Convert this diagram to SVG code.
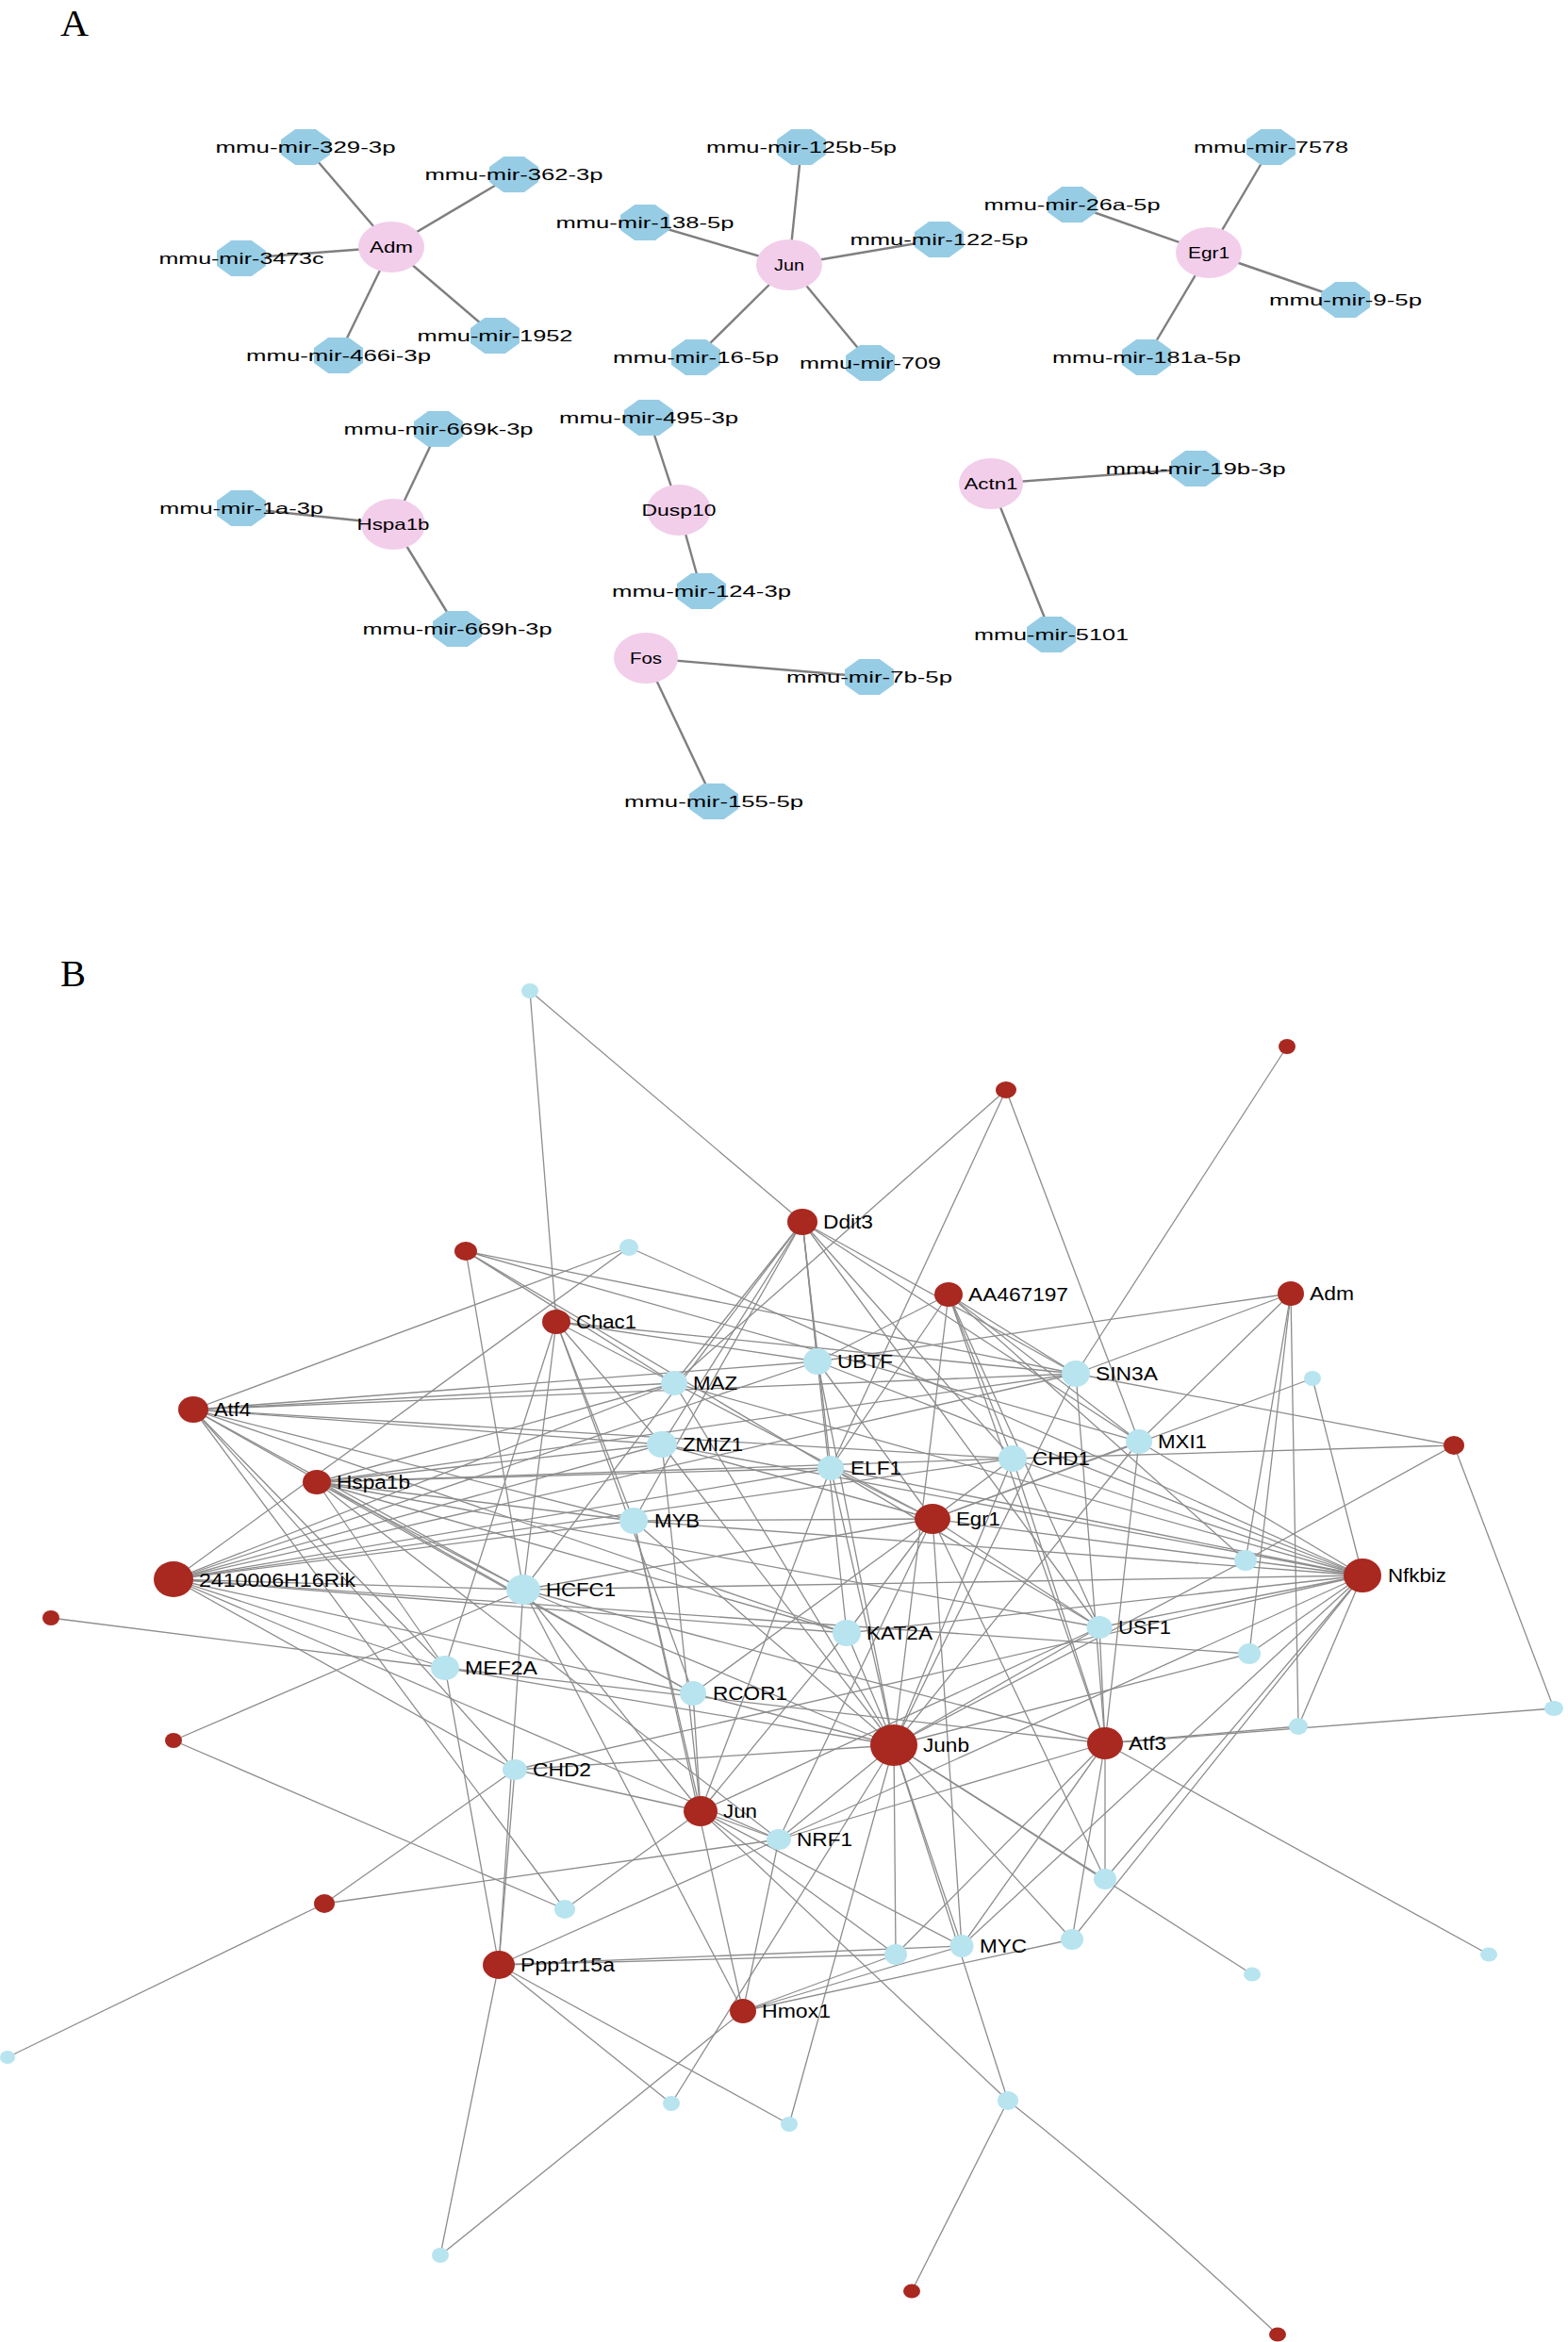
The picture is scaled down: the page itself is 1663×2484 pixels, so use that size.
<svg xmlns="http://www.w3.org/2000/svg" xmlns:xlink="http://www.w3.org/1999/xlink" width="1663" height="2484" viewBox="0 0 1663 2484">
<style>
.ea{stroke:#7f7f7f;stroke-width:2.4;fill:none}
.eb{stroke:#8d8d8d;stroke-width:1.3;fill:none}
.pk{fill:#f2ceeb}
.oc{fill:#97cce5}
.rd{fill:#a9281f}
.bl{fill:#b7e4ef}
.ml{font-family:"Liberation Sans",Arial,sans-serif;font-size:16.5px;fill:#000;text-anchor:middle}
.gl{font-family:"Liberation Sans",Arial,sans-serif;font-size:16.5px;fill:#000;text-anchor:middle}
.bt{font-family:"Liberation Sans",Arial,sans-serif;font-size:20px;fill:#000}
.pl{font-family:"Liberation Serif","Times New Roman",serif;font-size:40px;fill:#000}
</style>
<defs>
<polygon id="oct" points="-10.8,-19 10.8,-19 26,-7.9 26,7.9 10.8,19 -10.8,19 -26,7.9 -26,-7.9"/>
</defs>
<rect width="1663" height="2484" fill="#fff"/>
<text class="pl" x="64" y="38" textLength="30" lengthAdjust="spacingAndGlyphs">A</text>
<text class="pl" x="64" y="1046" textLength="27" lengthAdjust="spacingAndGlyphs">B</text>

<g id="connectors-a">
<line class="ea" x1="415" y1="262" x2="324" y2="156"/>
<line class="ea" x1="415" y1="262" x2="545" y2="185"/>
<line class="ea" x1="415" y1="262" x2="256" y2="274"/>
<line class="ea" x1="415" y1="262" x2="359" y2="377"/>
<line class="ea" x1="415" y1="262" x2="525" y2="356"/>
<line class="ea" x1="837" y1="281" x2="850" y2="156"/>
<line class="ea" x1="837" y1="281" x2="684" y2="236"/>
<line class="ea" x1="837" y1="281" x2="996" y2="254"/>
<line class="ea" x1="837" y1="281" x2="738" y2="379"/>
<line class="ea" x1="837" y1="281" x2="923" y2="385"/>
<line class="ea" x1="1282" y1="268" x2="1348" y2="156"/>
<line class="ea" x1="1282" y1="268" x2="1137" y2="217"/>
<line class="ea" x1="1282" y1="268" x2="1427" y2="318"/>
<line class="ea" x1="1282" y1="268" x2="1216" y2="379"/>
<line class="ea" x1="417" y1="556" x2="465" y2="455"/>
<line class="ea" x1="417" y1="556" x2="256" y2="539"/>
<line class="ea" x1="417" y1="556" x2="485" y2="667"/>
<line class="ea" x1="720" y1="541" x2="688" y2="443"/>
<line class="ea" x1="720" y1="541" x2="744" y2="627"/>
<line class="ea" x1="685" y1="698" x2="922" y2="718"/>
<line class="ea" x1="685" y1="698" x2="757" y2="850"/>
<line class="ea" x1="1051" y1="513" x2="1268" y2="497"/>
<line class="ea" x1="1051" y1="513" x2="1115" y2="673"/>
</g>

<g id="a-adm"><ellipse class="pk" cx="415" cy="262" rx="35" ry="27"/><text class="gl" x="415" y="268" textLength="46" lengthAdjust="spacingAndGlyphs">Adm</text></g>
<g id="a-jun"><ellipse class="pk" cx="837" cy="281" rx="35" ry="27"/><text class="gl" x="837" y="287" textLength="32" lengthAdjust="spacingAndGlyphs">Jun</text></g>
<g id="a-egr1"><ellipse class="pk" cx="1282" cy="268" rx="35" ry="27"/><text class="gl" x="1282" y="274" textLength="44" lengthAdjust="spacingAndGlyphs">Egr1</text></g>
<g id="a-hspa1b"><ellipse class="pk" cx="417" cy="556" rx="34" ry="27"/><text class="gl" x="417" y="562" textLength="77" lengthAdjust="spacingAndGlyphs">Hspa1b</text></g>
<g id="a-dusp10"><ellipse class="pk" cx="720" cy="541" rx="34" ry="27"/><text class="gl" x="720" y="547" textLength="79" lengthAdjust="spacingAndGlyphs">Dusp10</text></g>
<g id="a-fos"><ellipse class="pk" cx="685" cy="698" rx="34" ry="27"/><text class="gl" x="685" y="704" textLength="34" lengthAdjust="spacingAndGlyphs">Fos</text></g>
<g id="a-actn1"><ellipse class="pk" cx="1051" cy="513" rx="34" ry="27"/><text class="gl" x="1051" y="519" textLength="57" lengthAdjust="spacingAndGlyphs">Actn1</text></g>

<g id="a-mir-329-3p"><use href="#oct" class="oc" x="324" y="156"/><text class="ml" x="324" y="162" textLength="191" lengthAdjust="spacingAndGlyphs">mmu-mir-329-3p</text></g>
<g id="a-mir-362-3p"><use href="#oct" class="oc" x="545" y="185"/><text class="ml" x="545" y="191" textLength="189" lengthAdjust="spacingAndGlyphs">mmu-mir-362-3p</text></g>
<g id="a-mir-3473c"><use href="#oct" class="oc" x="256" y="274"/><text class="ml" x="256" y="280" textLength="175" lengthAdjust="spacingAndGlyphs">mmu-mir-3473c</text></g>
<g id="a-mir-466i-3p"><use href="#oct" class="oc" x="359" y="377"/><text class="ml" x="359" y="383" textLength="196" lengthAdjust="spacingAndGlyphs">mmu-mir-466i-3p</text></g>
<g id="a-mir-1952"><use href="#oct" class="oc" x="525" y="356"/><text class="ml" x="525" y="362" textLength="165" lengthAdjust="spacingAndGlyphs">mmu-mir-1952</text></g>
<g id="a-mir-125b-5p"><use href="#oct" class="oc" x="850" y="156"/><text class="ml" x="850" y="162" textLength="202" lengthAdjust="spacingAndGlyphs">mmu-mir-125b-5p</text></g>
<g id="a-mir-138-5p"><use href="#oct" class="oc" x="684" y="236"/><text class="ml" x="684" y="242" textLength="189" lengthAdjust="spacingAndGlyphs">mmu-mir-138-5p</text></g>
<g id="a-mir-122-5p"><use href="#oct" class="oc" x="996" y="254"/><text class="ml" x="996" y="260" textLength="189" lengthAdjust="spacingAndGlyphs">mmu-mir-122-5p</text></g>
<g id="a-mir-16-5p"><use href="#oct" class="oc" x="738" y="379"/><text class="ml" x="738" y="385" textLength="176" lengthAdjust="spacingAndGlyphs">mmu-mir-16-5p</text></g>
<g id="a-mir-709"><use href="#oct" class="oc" x="923" y="385"/><text class="ml" x="923" y="391" textLength="150" lengthAdjust="spacingAndGlyphs">mmu-mir-709</text></g>
<g id="a-mir-7578"><use href="#oct" class="oc" x="1348" y="156"/><text class="ml" x="1348" y="162" textLength="164" lengthAdjust="spacingAndGlyphs">mmu-mir-7578</text></g>
<g id="a-mir-26a-5p"><use href="#oct" class="oc" x="1137" y="217"/><text class="ml" x="1137" y="223" textLength="187" lengthAdjust="spacingAndGlyphs">mmu-mir-26a-5p</text></g>
<g id="a-mir-9-5p"><use href="#oct" class="oc" x="1427" y="318"/><text class="ml" x="1427" y="324" textLength="162" lengthAdjust="spacingAndGlyphs">mmu-mir-9-5p</text></g>
<g id="a-mir-181a-5p"><use href="#oct" class="oc" x="1216" y="379"/><text class="ml" x="1216" y="385" textLength="200" lengthAdjust="spacingAndGlyphs">mmu-mir-181a-5p</text></g>
<g id="a-mir-669k-3p"><use href="#oct" class="oc" x="465" y="455"/><text class="ml" x="465" y="461" textLength="201" lengthAdjust="spacingAndGlyphs">mmu-mir-669k-3p</text></g>
<g id="a-mir-1a-3p"><use href="#oct" class="oc" x="256" y="539"/><text class="ml" x="256" y="545" textLength="174" lengthAdjust="spacingAndGlyphs">mmu-mir-1a-3p</text></g>
<g id="a-mir-669h-3p"><use href="#oct" class="oc" x="485" y="667"/><text class="ml" x="485" y="673" textLength="201" lengthAdjust="spacingAndGlyphs">mmu-mir-669h-3p</text></g>
<g id="a-mir-495-3p"><use href="#oct" class="oc" x="688" y="443"/><text class="ml" x="688" y="449" textLength="190" lengthAdjust="spacingAndGlyphs">mmu-mir-495-3p</text></g>
<g id="a-mir-124-3p"><use href="#oct" class="oc" x="744" y="627"/><text class="ml" x="744" y="633" textLength="190" lengthAdjust="spacingAndGlyphs">mmu-mir-124-3p</text></g>
<g id="a-mir-155-5p"><use href="#oct" class="oc" x="757" y="850"/><text class="ml" x="757" y="856" textLength="190" lengthAdjust="spacingAndGlyphs">mmu-mir-155-5p</text></g>
<g id="a-mir-19b-3p"><use href="#oct" class="oc" x="1268" y="497"/><text class="ml" x="1268" y="503" textLength="191" lengthAdjust="spacingAndGlyphs">mmu-mir-19b-3p</text></g>
<g id="a-mir-5101"><use href="#oct" class="oc" x="1115" y="673"/><text class="ml" x="1115" y="679" textLength="164" lengthAdjust="spacingAndGlyphs">mmu-mir-5101</text></g>
<g id="a-mir-7b-5p"><use href="#oct" class="oc" x="922" y="718"/><text class="ml" x="922" y="724" textLength="176" lengthAdjust="spacingAndGlyphs">mmu-mir-7b-5p</text></g>

<g id="connectors-b" class="eb">
<line x1="562" y1="1051" x2="590" y2="1402"/>
<line x1="562" y1="1051" x2="851" y2="1296"/>
<line x1="1067" y1="1156" x2="715" y2="1467"/>
<line x1="1067" y1="1156" x2="881" y2="1557"/>
<line x1="1067" y1="1156" x2="1208" y2="1529"/>
<line x1="1365" y1="1110" x2="1141" y2="1457"/>
<line x1="494" y1="1327" x2="555" y2="1686"/>
<line x1="494" y1="1327" x2="715" y2="1467"/>
<line x1="494" y1="1327" x2="1166" y2="1726"/>
<line x1="494" y1="1327" x2="1141" y2="1457"/>
<line x1="494" y1="1327" x2="1208" y2="1529"/>
<line x1="667" y1="1323" x2="205" y2="1495"/>
<line x1="667" y1="1323" x2="184" y2="1675"/>
<line x1="667" y1="1323" x2="1445" y2="1671"/>
<line x1="1542" y1="1533" x2="1141" y2="1457"/>
<line x1="1542" y1="1533" x2="1074" y2="1547"/>
<line x1="1542" y1="1533" x2="1321" y2="1655"/>
<line x1="1542" y1="1533" x2="1648" y2="1812"/>
<line x1="54" y1="1716" x2="472" y2="1769"/>
<line x1="184" y1="1846" x2="555" y2="1686"/>
<line x1="184" y1="1846" x2="599" y2="2025"/>
<line x1="344" y1="2019" x2="546" y2="1877"/>
<line x1="344" y1="2019" x2="826" y2="1951"/>
<line x1="344" y1="2019" x2="8" y2="2182"/>
<line x1="1392" y1="1462" x2="989" y2="1611"/>
<line x1="1392" y1="1462" x2="1445" y2="1671"/>
<line x1="1321" y1="1655" x2="1445" y2="1671"/>
<line x1="1321" y1="1655" x2="1369" y2="1372"/>
<line x1="1321" y1="1655" x2="989" y2="1611"/>
<line x1="1321" y1="1655" x2="948" y2="1851"/>
<line x1="1321" y1="1655" x2="1006" y2="1373"/>
<line x1="1325" y1="1754" x2="1369" y2="1372"/>
<line x1="1325" y1="1754" x2="184" y2="1675"/>
<line x1="1325" y1="1754" x2="948" y2="1851"/>
<line x1="1325" y1="1754" x2="1445" y2="1671"/>
<line x1="1377" y1="1831" x2="1369" y2="1372"/>
<line x1="1377" y1="1831" x2="1172" y2="1849"/>
<line x1="1377" y1="1831" x2="1445" y2="1671"/>
<line x1="1648" y1="1812" x2="1172" y2="1849"/>
<line x1="1172" y1="1993" x2="948" y2="1851"/>
<line x1="1172" y1="1993" x2="1172" y2="1849"/>
<line x1="1172" y1="1993" x2="1445" y2="1671"/>
<line x1="1172" y1="1993" x2="989" y2="1611"/>
<line x1="1137" y1="2057" x2="948" y2="1851"/>
<line x1="1137" y1="2057" x2="1172" y2="1849"/>
<line x1="1137" y1="2057" x2="1445" y2="1671"/>
<line x1="1137" y1="2057" x2="788" y2="2133"/>
<line x1="950" y1="2073" x2="948" y2="1851"/>
<line x1="950" y1="2073" x2="529" y2="2084"/>
<line x1="950" y1="2073" x2="1172" y2="1849"/>
<line x1="950" y1="2073" x2="788" y2="2133"/>
<line x1="950" y1="2073" x2="743" y2="1921"/>
<line x1="599" y1="2025" x2="205" y2="1495"/>
<line x1="599" y1="2025" x2="743" y2="1921"/>
<line x1="1579" y1="2073" x2="1172" y2="1849"/>
<line x1="1328" y1="2094" x2="948" y2="1851"/>
<line x1="712" y1="2231" x2="529" y2="2084"/>
<line x1="712" y1="2231" x2="948" y2="1851"/>
<line x1="837" y1="2253" x2="529" y2="2084"/>
<line x1="837" y1="2253" x2="948" y2="1851"/>
<line x1="1069" y1="2228" x2="743" y2="1921"/>
<line x1="1069" y1="2228" x2="948" y2="1851"/>
<line x1="1069" y1="2228" x2="967" y2="2430"/>
<path d="M1069,2228 Q1205,2335 1355,2476"/>
<line x1="467" y1="2392" x2="529" y2="2084"/>
<line x1="467" y1="2392" x2="788" y2="2133"/>
<line x1="1020" y1="2064" x2="948" y2="1851"/>
<line x1="1020" y1="2064" x2="1172" y2="1849"/>
<line x1="1020" y1="2064" x2="529" y2="2084"/>
<line x1="1020" y1="2064" x2="788" y2="2133"/>
<line x1="1020" y1="2064" x2="989" y2="1611"/>
<line x1="1020" y1="2064" x2="1445" y2="1671"/>
<line x1="1020" y1="2064" x2="743" y2="1921"/>
<line x1="826" y1="1951" x2="948" y2="1851"/>
<line x1="826" y1="1951" x2="743" y2="1921"/>
<line x1="826" y1="1951" x2="989" y2="1611"/>
<line x1="826" y1="1951" x2="184" y2="1675"/>
<line x1="826" y1="1951" x2="336" y2="1572"/>
<line x1="826" y1="1951" x2="1172" y2="1849"/>
<line x1="826" y1="1951" x2="1445" y2="1671"/>
<line x1="826" y1="1951" x2="788" y2="2133"/>
<line x1="826" y1="1951" x2="529" y2="2084"/>
<line x1="546" y1="1877" x2="529" y2="2084"/>
<line x1="546" y1="1877" x2="184" y2="1675"/>
<line x1="546" y1="1877" x2="205" y2="1495"/>
<line x1="546" y1="1877" x2="948" y2="1851"/>
<line x1="546" y1="1877" x2="743" y2="1921"/>
<line x1="546" y1="1877" x2="1445" y2="1671"/>
<line x1="735" y1="1796" x2="948" y2="1851"/>
<line x1="735" y1="1796" x2="743" y2="1921"/>
<line x1="735" y1="1796" x2="184" y2="1675"/>
<line x1="735" y1="1796" x2="336" y2="1572"/>
<line x1="735" y1="1796" x2="205" y2="1495"/>
<line x1="735" y1="1796" x2="590" y2="1402"/>
<line x1="735" y1="1796" x2="989" y2="1611"/>
<line x1="472" y1="1769" x2="184" y2="1675"/>
<line x1="472" y1="1769" x2="336" y2="1572"/>
<line x1="472" y1="1769" x2="590" y2="1402"/>
<line x1="472" y1="1769" x2="529" y2="2084"/>
<line x1="472" y1="1769" x2="948" y2="1851"/>
<line x1="472" y1="1769" x2="1172" y2="1849"/>
<line x1="472" y1="1769" x2="205" y2="1495"/>
<line x1="898" y1="1732" x2="184" y2="1675"/>
<line x1="898" y1="1732" x2="336" y2="1572"/>
<line x1="898" y1="1732" x2="205" y2="1495"/>
<line x1="898" y1="1732" x2="851" y2="1296"/>
<line x1="898" y1="1732" x2="989" y2="1611"/>
<line x1="898" y1="1732" x2="948" y2="1851"/>
<line x1="898" y1="1732" x2="1445" y2="1671"/>
<line x1="898" y1="1732" x2="743" y2="1921"/>
<line x1="1166" y1="1726" x2="851" y2="1296"/>
<line x1="1166" y1="1726" x2="1006" y2="1373"/>
<line x1="1166" y1="1726" x2="989" y2="1611"/>
<line x1="1166" y1="1726" x2="948" y2="1851"/>
<line x1="1166" y1="1726" x2="1172" y2="1849"/>
<line x1="1166" y1="1726" x2="1445" y2="1671"/>
<line x1="1166" y1="1726" x2="743" y2="1921"/>
<line x1="1166" y1="1726" x2="336" y2="1572"/>
<line x1="555" y1="1686" x2="184" y2="1675"/>
<line x1="555" y1="1686" x2="336" y2="1572"/>
<line x1="555" y1="1686" x2="205" y2="1495"/>
<line x1="555" y1="1686" x2="590" y2="1402"/>
<line x1="555" y1="1686" x2="851" y2="1296"/>
<line x1="555" y1="1686" x2="529" y2="2084"/>
<line x1="555" y1="1686" x2="948" y2="1851"/>
<line x1="555" y1="1686" x2="743" y2="1921"/>
<line x1="555" y1="1686" x2="1445" y2="1671"/>
<line x1="555" y1="1686" x2="1172" y2="1849"/>
<line x1="555" y1="1686" x2="788" y2="2133"/>
<line x1="555" y1="1686" x2="989" y2="1611"/>
<line x1="672" y1="1613" x2="184" y2="1675"/>
<line x1="672" y1="1613" x2="336" y2="1572"/>
<line x1="672" y1="1613" x2="205" y2="1495"/>
<line x1="672" y1="1613" x2="590" y2="1402"/>
<line x1="672" y1="1613" x2="851" y2="1296"/>
<line x1="672" y1="1613" x2="989" y2="1611"/>
<line x1="672" y1="1613" x2="948" y2="1851"/>
<line x1="672" y1="1613" x2="743" y2="1921"/>
<line x1="672" y1="1613" x2="1445" y2="1671"/>
<line x1="672" y1="1613" x2="788" y2="2133"/>
<line x1="881" y1="1557" x2="851" y2="1296"/>
<line x1="881" y1="1557" x2="1006" y2="1373"/>
<line x1="881" y1="1557" x2="989" y2="1611"/>
<line x1="881" y1="1557" x2="948" y2="1851"/>
<line x1="881" y1="1557" x2="743" y2="1921"/>
<line x1="881" y1="1557" x2="1445" y2="1671"/>
<line x1="881" y1="1557" x2="184" y2="1675"/>
<line x1="881" y1="1557" x2="336" y2="1572"/>
<line x1="1208" y1="1529" x2="851" y2="1296"/>
<line x1="1208" y1="1529" x2="1369" y2="1372"/>
<line x1="1208" y1="1529" x2="989" y2="1611"/>
<line x1="1208" y1="1529" x2="948" y2="1851"/>
<line x1="1208" y1="1529" x2="1172" y2="1849"/>
<line x1="1208" y1="1529" x2="1445" y2="1671"/>
<line x1="1208" y1="1529" x2="1006" y2="1373"/>
<line x1="1074" y1="1547" x2="1006" y2="1373"/>
<line x1="1074" y1="1547" x2="851" y2="1296"/>
<line x1="1074" y1="1547" x2="989" y2="1611"/>
<line x1="1074" y1="1547" x2="948" y2="1851"/>
<line x1="1074" y1="1547" x2="1172" y2="1849"/>
<line x1="1074" y1="1547" x2="1445" y2="1671"/>
<line x1="1074" y1="1547" x2="184" y2="1675"/>
<line x1="1074" y1="1547" x2="336" y2="1572"/>
<line x1="1074" y1="1547" x2="205" y2="1495"/>
<line x1="702" y1="1532" x2="184" y2="1675"/>
<line x1="702" y1="1532" x2="336" y2="1572"/>
<line x1="702" y1="1532" x2="205" y2="1495"/>
<line x1="702" y1="1532" x2="590" y2="1402"/>
<line x1="702" y1="1532" x2="851" y2="1296"/>
<line x1="702" y1="1532" x2="989" y2="1611"/>
<line x1="702" y1="1532" x2="948" y2="1851"/>
<line x1="702" y1="1532" x2="1445" y2="1671"/>
<line x1="702" y1="1532" x2="743" y2="1921"/>
<line x1="715" y1="1467" x2="590" y2="1402"/>
<line x1="715" y1="1467" x2="851" y2="1296"/>
<line x1="715" y1="1467" x2="205" y2="1495"/>
<line x1="715" y1="1467" x2="184" y2="1675"/>
<line x1="715" y1="1467" x2="989" y2="1611"/>
<line x1="715" y1="1467" x2="948" y2="1851"/>
<line x1="715" y1="1467" x2="1445" y2="1671"/>
<line x1="715" y1="1467" x2="336" y2="1572"/>
<line x1="1141" y1="1457" x2="1369" y2="1372"/>
<line x1="1141" y1="1457" x2="1006" y2="1373"/>
<line x1="1141" y1="1457" x2="851" y2="1296"/>
<line x1="1141" y1="1457" x2="590" y2="1402"/>
<line x1="1141" y1="1457" x2="948" y2="1851"/>
<line x1="1141" y1="1457" x2="1172" y2="1849"/>
<line x1="1141" y1="1457" x2="184" y2="1675"/>
<line x1="1141" y1="1457" x2="336" y2="1572"/>
<line x1="1141" y1="1457" x2="205" y2="1495"/>
<line x1="867" y1="1444" x2="851" y2="1296"/>
<line x1="867" y1="1444" x2="1006" y2="1373"/>
<line x1="867" y1="1444" x2="1369" y2="1372"/>
<line x1="867" y1="1444" x2="590" y2="1402"/>
<line x1="867" y1="1444" x2="205" y2="1495"/>
<line x1="867" y1="1444" x2="184" y2="1675"/>
<line x1="867" y1="1444" x2="948" y2="1851"/>
<line x1="867" y1="1444" x2="989" y2="1611"/>
<line x1="867" y1="1444" x2="1445" y2="1671"/>
<line x1="1006" y1="1373" x2="948" y2="1851"/>
<line x1="1006" y1="1373" x2="1172" y2="1849"/>
</g>

<g id="b-ddit3"><ellipse class="rd" cx="851" cy="1296" rx="16" ry="14"/><text class="bt" x="873" y="1303" textLength="53" lengthAdjust="spacingAndGlyphs">Ddit3</text></g>
<g id="b-aa467197"><ellipse class="rd" cx="1006" cy="1373" rx="15" ry="13"/><text class="bt" x="1027" y="1380" textLength="106" lengthAdjust="spacingAndGlyphs">AA467197</text></g>
<g id="b-adm"><ellipse class="rd" cx="1369" cy="1372" rx="14" ry="13"/><text class="bt" x="1389" y="1379" textLength="47" lengthAdjust="spacingAndGlyphs">Adm</text></g>
<g id="b-chac1"><ellipse class="rd" cx="590" cy="1402" rx="15" ry="13"/><text class="bt" x="611" y="1409" textLength="64" lengthAdjust="spacingAndGlyphs">Chac1</text></g>
<g id="b-atf4"><ellipse class="rd" cx="205" cy="1495" rx="16" ry="14"/><text class="bt" x="227" y="1502" textLength="39" lengthAdjust="spacingAndGlyphs">Atf4</text></g>
<g id="b-hspa1b"><ellipse class="rd" cx="336" cy="1572" rx="15" ry="13"/><text class="bt" x="357" y="1579" textLength="78" lengthAdjust="spacingAndGlyphs">Hspa1b</text></g>
<g id="b-egr1"><ellipse class="rd" cx="989" cy="1611" rx="19" ry="16"/><text class="bt" x="1014" y="1618" textLength="47" lengthAdjust="spacingAndGlyphs">Egr1</text></g>
<g id="b-2410006h16rik"><ellipse class="rd" cx="184" cy="1675" rx="21" ry="19"/><text class="bt" x="211" y="1683" textLength="166" lengthAdjust="spacingAndGlyphs">2410006H16Rik</text></g>
<g id="b-nfkbiz"><ellipse class="rd" cx="1445" cy="1671" rx="20" ry="18"/><text class="bt" x="1472" y="1678" textLength="62" lengthAdjust="spacingAndGlyphs">Nfkbiz</text></g>
<g id="b-junb"><ellipse class="rd" cx="948" cy="1851" rx="25" ry="22"/><text class="bt" x="979" y="1858" textLength="49" lengthAdjust="spacingAndGlyphs">Junb</text></g>
<g id="b-atf3"><ellipse class="rd" cx="1172" cy="1849" rx="19" ry="17"/><text class="bt" x="1197" y="1856" textLength="40" lengthAdjust="spacingAndGlyphs">Atf3</text></g>
<g id="b-jun"><ellipse class="rd" cx="743" cy="1921" rx="18" ry="16"/><text class="bt" x="767" y="1928" textLength="36" lengthAdjust="spacingAndGlyphs">Jun</text></g>
<g id="b-ppp1r15a"><ellipse class="rd" cx="529" cy="2084" rx="17" ry="15"/><text class="bt" x="552" y="2091" textLength="100" lengthAdjust="spacingAndGlyphs">Ppp1r15a</text></g>
<g id="b-hmox1"><ellipse class="rd" cx="788" cy="2133" rx="14" ry="13"/><text class="bt" x="808" y="2140" textLength="73" lengthAdjust="spacingAndGlyphs">Hmox1</text></g>
<g id="b-r1"><ellipse class="rd" cx="1067" cy="1156" rx="11" ry="9"/></g>
<g id="b-r2"><ellipse class="rd" cx="1365" cy="1110" rx="9" ry="8"/></g>
<g id="b-r3"><ellipse class="rd" cx="494" cy="1327" rx="12" ry="10"/></g>
<g id="b-r4"><ellipse class="rd" cx="1542" cy="1533" rx="11" ry="10"/></g>
<g id="b-r5"><ellipse class="rd" cx="54" cy="1716" rx="9" ry="8"/></g>
<g id="b-r6"><ellipse class="rd" cx="184" cy="1846" rx="9" ry="8"/></g>
<g id="b-r7"><ellipse class="rd" cx="344" cy="2019" rx="11" ry="10"/></g>
<g id="b-r8"><ellipse class="rd" cx="967" cy="2430" rx="9" ry="7.5"/></g>
<g id="b-r9"><ellipse class="rd" cx="1355" cy="2476" rx="9" ry="7.5"/></g>

<g id="b-ubtf"><ellipse class="bl" cx="867" cy="1444" rx="15" ry="14"/><text class="bt" x="888" y="1451" textLength="59" lengthAdjust="spacingAndGlyphs">UBTF</text></g>
<g id="b-sin3a"><ellipse class="bl" cx="1141" cy="1457" rx="15" ry="14"/><text class="bt" x="1162" y="1464" textLength="66" lengthAdjust="spacingAndGlyphs">SIN3A</text></g>
<g id="b-maz"><ellipse class="bl" cx="715" cy="1467" rx="14" ry="13"/><text class="bt" x="735" y="1474" textLength="47" lengthAdjust="spacingAndGlyphs">MAZ</text></g>
<g id="b-zmiz1"><ellipse class="bl" cx="702" cy="1532" rx="16" ry="14"/><text class="bt" x="724" y="1539" textLength="64" lengthAdjust="spacingAndGlyphs">ZMIZ1</text></g>
<g id="b-chd1"><ellipse class="bl" cx="1074" cy="1547" rx="15" ry="14"/><text class="bt" x="1095" y="1554" textLength="61" lengthAdjust="spacingAndGlyphs">CHD1</text></g>
<g id="b-mxi1"><ellipse class="bl" cx="1208" cy="1529" rx="14" ry="13"/><text class="bt" x="1228" y="1536" textLength="52" lengthAdjust="spacingAndGlyphs">MXI1</text></g>
<g id="b-elf1"><ellipse class="bl" cx="881" cy="1557" rx="14" ry="13"/><text class="bt" x="902" y="1564" textLength="54" lengthAdjust="spacingAndGlyphs">ELF1</text></g>
<g id="b-myb"><ellipse class="bl" cx="672" cy="1613" rx="15" ry="14"/><text class="bt" x="694" y="1620" textLength="48" lengthAdjust="spacingAndGlyphs">MYB</text></g>
<g id="b-hcfc1"><ellipse class="bl" cx="555" cy="1686" rx="18" ry="16"/><text class="bt" x="579" y="1693" textLength="74" lengthAdjust="spacingAndGlyphs">HCFC1</text></g>
<g id="b-usf1"><ellipse class="bl" cx="1166" cy="1726" rx="13.5" ry="12"/><text class="bt" x="1186" y="1733" textLength="56" lengthAdjust="spacingAndGlyphs">USF1</text></g>
<g id="b-kat2a"><ellipse class="bl" cx="898" cy="1732" rx="15" ry="14"/><text class="bt" x="919" y="1739" textLength="70" lengthAdjust="spacingAndGlyphs">KAT2A</text></g>
<g id="b-mef2a"><ellipse class="bl" cx="472" cy="1769" rx="15" ry="13"/><text class="bt" x="493" y="1776" textLength="77" lengthAdjust="spacingAndGlyphs">MEF2A</text></g>
<g id="b-rcor1"><ellipse class="bl" cx="735" cy="1796" rx="14" ry="13"/><text class="bt" x="756" y="1803" textLength="79" lengthAdjust="spacingAndGlyphs">RCOR1</text></g>
<g id="b-chd2"><ellipse class="bl" cx="546" cy="1877" rx="13" ry="11"/><text class="bt" x="565" y="1884" textLength="62" lengthAdjust="spacingAndGlyphs">CHD2</text></g>
<g id="b-nrf1"><ellipse class="bl" cx="826" cy="1951" rx="13" ry="11"/><text class="bt" x="845" y="1958" textLength="59" lengthAdjust="spacingAndGlyphs">NRF1</text></g>
<g id="b-myc"><ellipse class="bl" cx="1020" cy="2064" rx="12.5" ry="12"/><text class="bt" x="1039" y="2071" textLength="50" lengthAdjust="spacingAndGlyphs">MYC</text></g>
<g id="b-b1"><ellipse class="bl" cx="562" cy="1051" rx="9" ry="8"/></g>
<g id="b-b2"><ellipse class="bl" cx="667" cy="1323" rx="10" ry="9"/></g>
<g id="b-b3"><ellipse class="bl" cx="1392" cy="1462" rx="9" ry="8"/></g>
<g id="b-b4"><ellipse class="bl" cx="1321" cy="1655" rx="12" ry="11"/></g>
<g id="b-b5"><ellipse class="bl" cx="1325" cy="1754" rx="12" ry="11"/></g>
<g id="b-b6"><ellipse class="bl" cx="1377" cy="1831" rx="10" ry="9"/></g>
<g id="b-b7"><ellipse class="bl" cx="1648" cy="1812" rx="10" ry="8"/></g>
<g id="b-b8"><ellipse class="bl" cx="1172" cy="1993" rx="12" ry="11"/></g>
<g id="b-b9"><ellipse class="bl" cx="1137" cy="2057" rx="12" ry="11"/></g>
<g id="b-b10"><ellipse class="bl" cx="950" cy="2073" rx="12" ry="11"/></g>
<g id="b-b11"><ellipse class="bl" cx="599" cy="2025" rx="11" ry="10"/></g>
<g id="b-b12"><ellipse class="bl" cx="1579" cy="2073" rx="9" ry="7.5"/></g>
<g id="b-b13"><ellipse class="bl" cx="1328" cy="2094" rx="9" ry="7.5"/></g>
<g id="b-b14"><ellipse class="bl" cx="8" cy="2182" rx="8" ry="7"/></g>
<g id="b-b15"><ellipse class="bl" cx="712" cy="2231" rx="9" ry="8"/></g>
<g id="b-b16"><ellipse class="bl" cx="837" cy="2253" rx="9" ry="8"/></g>
<g id="b-b17"><ellipse class="bl" cx="1069" cy="2228" rx="11" ry="10"/></g>
<g id="b-b18"><ellipse class="bl" cx="467" cy="2392" rx="9" ry="8"/></g>
</svg>
